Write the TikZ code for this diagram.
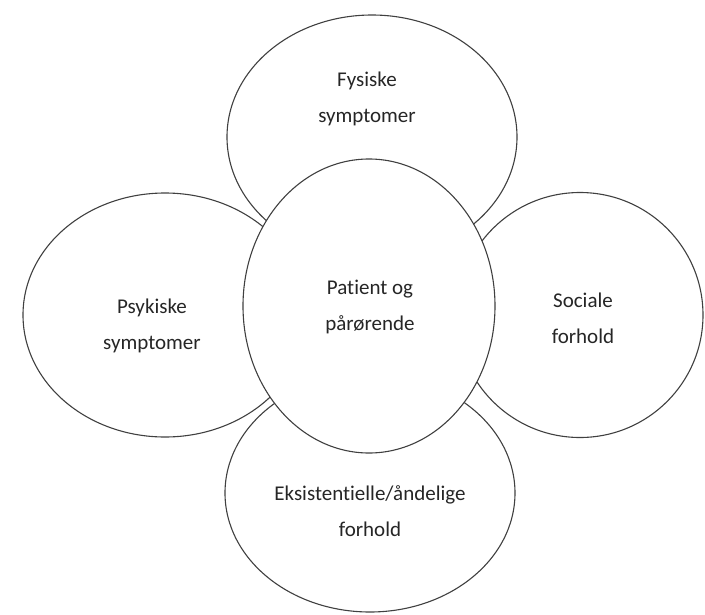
\documentclass[tikz,border=0pt]{standalone}
\usepackage{fontspec}
\setmainfont{Carlito}[Ligatures=NoCommon]
\usetikzlibrary{shapes.geometric}

\begin{document}
\begin{tikzpicture}[x=1pt,y=-1pt,
    ring/.style={draw=black!75, line width=1.1pt, ellipse, fill=white, inner sep=0pt},
    caption/.style={align=center, text=black!85, font=\fontsize{21}{36}\selectfont}]
			\useasboundingbox (0,0) rectangle (705,614);
			% outer ellipses
			\node (psykisk) at (165,315) [ring, minimum width=284pt, minimum height=244pt] {};
			\node (social) at (580,315) [ring, minimum width=246pt, minimum height=245pt] {};
			\node (fysisk) at (372,137) [ring, minimum width=290pt, minimum height=244pt] {};
			\node (eksist) at (370,493) [ring, minimum width=290pt, minimum height=238pt] {};
			% centre ellipse on top
			\node (patient) at (369,306) [ring, minimum width=252pt, minimum height=294pt] {};
			
			\node (fysisk txt) at (367,99) [caption] {Fysiske\\symptomer};
			\node (psykisk txt) at (152,326) [caption] {Psykiske\\symptomer};
			\node (social txt) at (583,318) [caption] {Sociale\\forhold};
			\node (eksist txt) at (370,511) [caption] {Eksistentielle/åndelige\\forhold};
			\node (patient txt) at (370,307) [caption] {Patient og\\pårørende};
		\end{tikzpicture}
\end{document}
